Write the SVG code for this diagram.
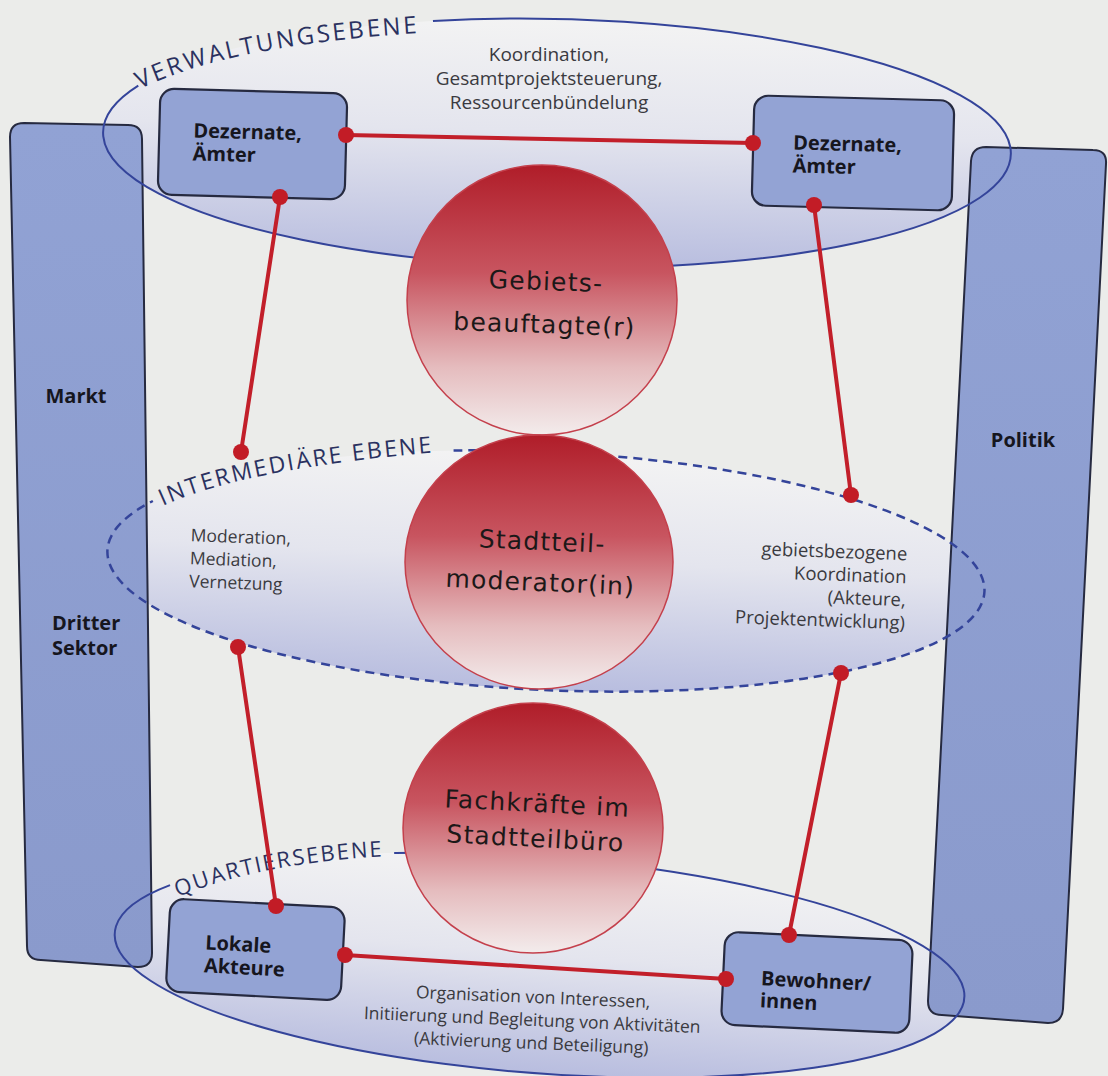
<svg xmlns="http://www.w3.org/2000/svg" width="1108" height="1076" viewBox="0 0 1108 1076">
  <defs>
    <linearGradient id="levelFill" x1="0" y1="0" x2="0" y2="1">
      <stop offset="0" stop-color="#f3f3f3"/>
      <stop offset="0.45" stop-color="#e4e5ee"/>
      <stop offset="1" stop-color="#b8bddf"/>
    </linearGradient>
    <linearGradient id="ballFill" x1="0" y1="0" x2="0" y2="1">
      <stop offset="0" stop-color="#b01d29"/>
      <stop offset="0.4" stop-color="#c85560"/>
      <stop offset="0.75" stop-color="#e5bcbe"/>
      <stop offset="1" stop-color="#f3ecec"/>
    </linearGradient>
    <linearGradient id="barFill" x1="0" y1="0" x2="0" y2="1">
      <stop offset="0" stop-color="#91a2d4"/>
      <stop offset="1" stop-color="#8a9acc"/>
    </linearGradient>
    <!-- baselines for the level captions -->
    <path id="capTop" d="M140,89 Q230,45 420,33"/>
    <path id="capMid" d="M163,506 Q245,468 440,452"/>
    <path id="capLow" d="M178,897 Q262,862 392,856"/>
  </defs>
  <style>
    .lvl{fill:none;stroke:#34449a;stroke-width:2}
    .dash{stroke-dasharray:9 6;stroke-width:2.5}
    .bar{fill:url(#barFill);stroke:#262a40;stroke-width:2}
    .box{fill:#93a3d4;stroke:#262a40;stroke-width:2.2}
    .ball{fill:url(#ballFill);stroke:#c4404c;stroke-width:1.5}
    .link{fill:none;stroke:#c21f2a;stroke-width:4;stroke-linecap:round}
    .dot{fill:#c21c26}
    .lab{font-family:"Open Sans","DejaVu Sans",sans-serif;font-weight:700;font-size:20px;fill:#16161e}
    .note{font-family:"Open Sans","DejaVu Sans",sans-serif;font-size:17.5px;fill:#3a3a40}
    .ballt{font-family:"DejaVu Sans","Liberation Sans",sans-serif;font-size:25px;letter-spacing:1.2px;fill:#1c1818;text-anchor:middle}
    .level{font-family:"Open Sans","DejaVu Sans",sans-serif;font-size:24px;letter-spacing:2.6px;fill:#2a3160}
  </style>

  <rect width="1108" height="1076" fill="#ebecea"/>

  <!-- level areas (fills) -->
  <g id="level-fills">
    <ellipse cx="557" cy="143" rx="454" ry="124" fill="url(#levelFill)" transform="rotate(1.4 557 143)"/>
    <ellipse cx="546" cy="571" rx="439" ry="119" fill="url(#levelFill)" transform="rotate(2.7 546 571)"/>
    <ellipse cx="540" cy="965" rx="426" ry="108" fill="url(#levelFill)" transform="rotate(4.4 540 965)"/>
  </g>

  <!-- side columns -->
  <g id="markt">
    <path class="bar" d="M24,123 L128,125 Q142,125 142,139 L152,953 Q152,967 138,967 L41,960 Q27,960 27,946 L10,137 Q10,123 24,123 Z"/>
    <text class="lab" x="76" y="403" text-anchor="middle">Markt</text>
    <text class="lab" x="52" y="630">Dritter</text>
    <text class="lab" x="52" y="655">Sektor</text>
  </g>
  <g id="politik">
    <path class="bar" d="M986,147 L1093,150 Q1107,150 1106,164 L1063,1009 Q1062,1023 1048,1023 L942,1015 Q928,1015 928,1001 L971,161 Q972,147 986,147 Z"/>
    <text class="lab" x="1023" y="447" text-anchor="middle">Politik</text>
  </g>

  <!-- level outlines with captions -->
  <g id="level-verwaltung">
    <path class="lvl" d="M430,23.95 A454,124 0 1 1 137,95.9" transform="rotate(1.4 557 143)"/>
    <text class="level"><textPath href="#capTop">VERWALTUNGSEBENE</textPath></text>
  </g>
  <g id="level-intermediaer">
    <path class="lvl dash" d="M448,455 A439,119 0 1 1 150,519.6" transform="rotate(2.7 546 571)"/>
    <text class="level" style="font-size:23px;letter-spacing:2.2px"><textPath href="#capMid">INTERMEDIÄRE EBENE</textPath></text>
  </g>
  <g id="level-quartier">
    <path class="lvl" d="M386,864.5 A426,108 0 1 1 165,913.8" transform="rotate(4.4 540 965)"/>
    <text class="level" style="font-size:22px;letter-spacing:1.9px"><textPath href="#capLow">QUARTIERSEBENE</textPath></text>
  </g>

  <!-- central roles -->
  <g id="gebietsbeauftragte">
    <circle class="ball" cx="542" cy="300" r="135"/>
    <g transform="rotate(2 545 310)">
      <text class="ballt" x="545" y="290">Gebiets-</text>
      <text class="ballt" x="545" y="333">beauftagte(r)</text>
    </g>
  </g>
  <g id="stadtteilmoderation">
    <ellipse class="ball" cx="539" cy="562" rx="134" ry="127"/>
    <g transform="rotate(2.5 541 568)">
      <text class="ballt" x="541" y="550">Stadtteil-</text>
      <text class="ballt" x="541" y="591">moderator(in)</text>
    </g>
  </g>
  <g id="stadtteilbuero">
    <ellipse class="ball" cx="533" cy="828" rx="130" ry="125"/>
    <g transform="rotate(3 536 828)">
      <text class="ballt" x="536" y="812">Fachkräfte im</text>
      <text class="ballt" x="536" y="847">Stadtteilbüro</text>
    </g>
  </g>

  <!-- level descriptions -->
  <g id="notes">
    <g text-anchor="middle" style="font-size:19px">
      <text class="note" style="font-size:19px" x="549" y="61">Koordination,</text>
      <text class="note" style="font-size:19px" x="549" y="85">Gesamtprojektsteuerung,</text>
      <text class="note" style="font-size:19px" x="549" y="109">Ressourcenbündelung</text>
    </g>
    <g transform="rotate(2 240 560)">
      <text class="note" x="190" y="543">Moderation,</text>
      <text class="note" x="190" y="566">Mediation,</text>
      <text class="note" x="190" y="589">Vernetzung</text>
    </g>
    <g transform="rotate(2 840 590)" text-anchor="end">
      <text class="note" style="font-size:18.5px" x="906" y="558">gebietsbezogene</text>
      <text class="note" style="font-size:18.5px" x="906" y="581">Koordination</text>
      <text class="note" style="font-size:18.5px" x="906" y="604">(Akteure,</text>
      <text class="note" style="font-size:18.5px" x="906" y="627">Projektentwicklung)</text>
    </g>
    <g transform="rotate(2.4 532 1025)" text-anchor="middle">
      <text class="note" x="532" y="1003">Organisation von Interessen,</text>
      <text class="note" x="532" y="1026">Initiierung und Begleitung von Aktivitäten</text>
      <text class="note" x="532" y="1049">(Aktivierung und Beteiligung)</text>
    </g>
  </g>

  <!-- connectors -->
  <g id="connectors">
    <line class="link" x1="346" y1="135" x2="753" y2="143"/>
    <line class="link" x1="280" y1="197" x2="241" y2="452"/>
    <line class="link" x1="814" y1="205" x2="851" y2="495"/>
    <line class="link" x1="238" y1="647" x2="276" y2="906"/>
    <line class="link" x1="841" y1="673" x2="789" y2="935"/>
    <line class="link" x1="345" y1="955" x2="726" y2="979"/>
  </g>

  <!-- actor boxes -->
  <g id="dezernate-links">
    <rect class="box" x="159" y="91" width="187" height="106" rx="14" transform="rotate(1.5 252 144)"/>
    <g transform="rotate(1.5 252 144)">
      <text class="lab" x="193" y="139">Dezernate,</text>
      <text class="lab" x="193" y="162">Ämter</text>
    </g>
  </g>
  <g id="dezernate-rechts">
    <rect class="box" x="753" y="98" width="200" height="110" rx="14" transform="rotate(1.5 853 153)"/>
    <g transform="rotate(1.5 853 153)">
      <text class="lab" x="793" y="151">Dezernate,</text>
      <text class="lab" x="793" y="174">Ämter</text>
    </g>
  </g>
  <g id="lokale-akteure">
    <rect class="box" x="168" y="903" width="175" height="93" rx="14" transform="rotate(3 255 949)"/>
    <g transform="rotate(3 255 949)">
      <text class="lab" x="205" y="952">Lokale</text>
      <text class="lab" x="205" y="975">Akteure</text>
    </g>
  </g>
  <g id="bewohner">
    <rect class="box" x="723" y="936" width="188" height="93" rx="14" transform="rotate(2.7 817 982)"/>
    <g transform="rotate(2.7 817 982)">
      <text class="lab" x="761" y="988">Bewohner/</text>
      <text class="lab" x="761" y="1010">innen</text>
    </g>
  </g>

  <!-- connector end points -->
  <g id="connector-dots">
    <circle class="dot" cx="346" cy="135" r="8"/>
    <circle class="dot" cx="753" cy="143" r="8"/>
    <circle class="dot" cx="280" cy="197" r="8"/>
    <circle class="dot" cx="241" cy="452" r="8"/>
    <circle class="dot" cx="814" cy="205" r="8"/>
    <circle class="dot" cx="851" cy="495" r="8"/>
    <circle class="dot" cx="238" cy="647" r="8"/>
    <circle class="dot" cx="276" cy="906" r="8"/>
    <circle class="dot" cx="841" cy="673" r="8"/>
    <circle class="dot" cx="789" cy="935" r="8"/>
    <circle class="dot" cx="345" cy="955" r="8"/>
    <circle class="dot" cx="726" cy="979" r="8"/>
  </g>
</svg>
